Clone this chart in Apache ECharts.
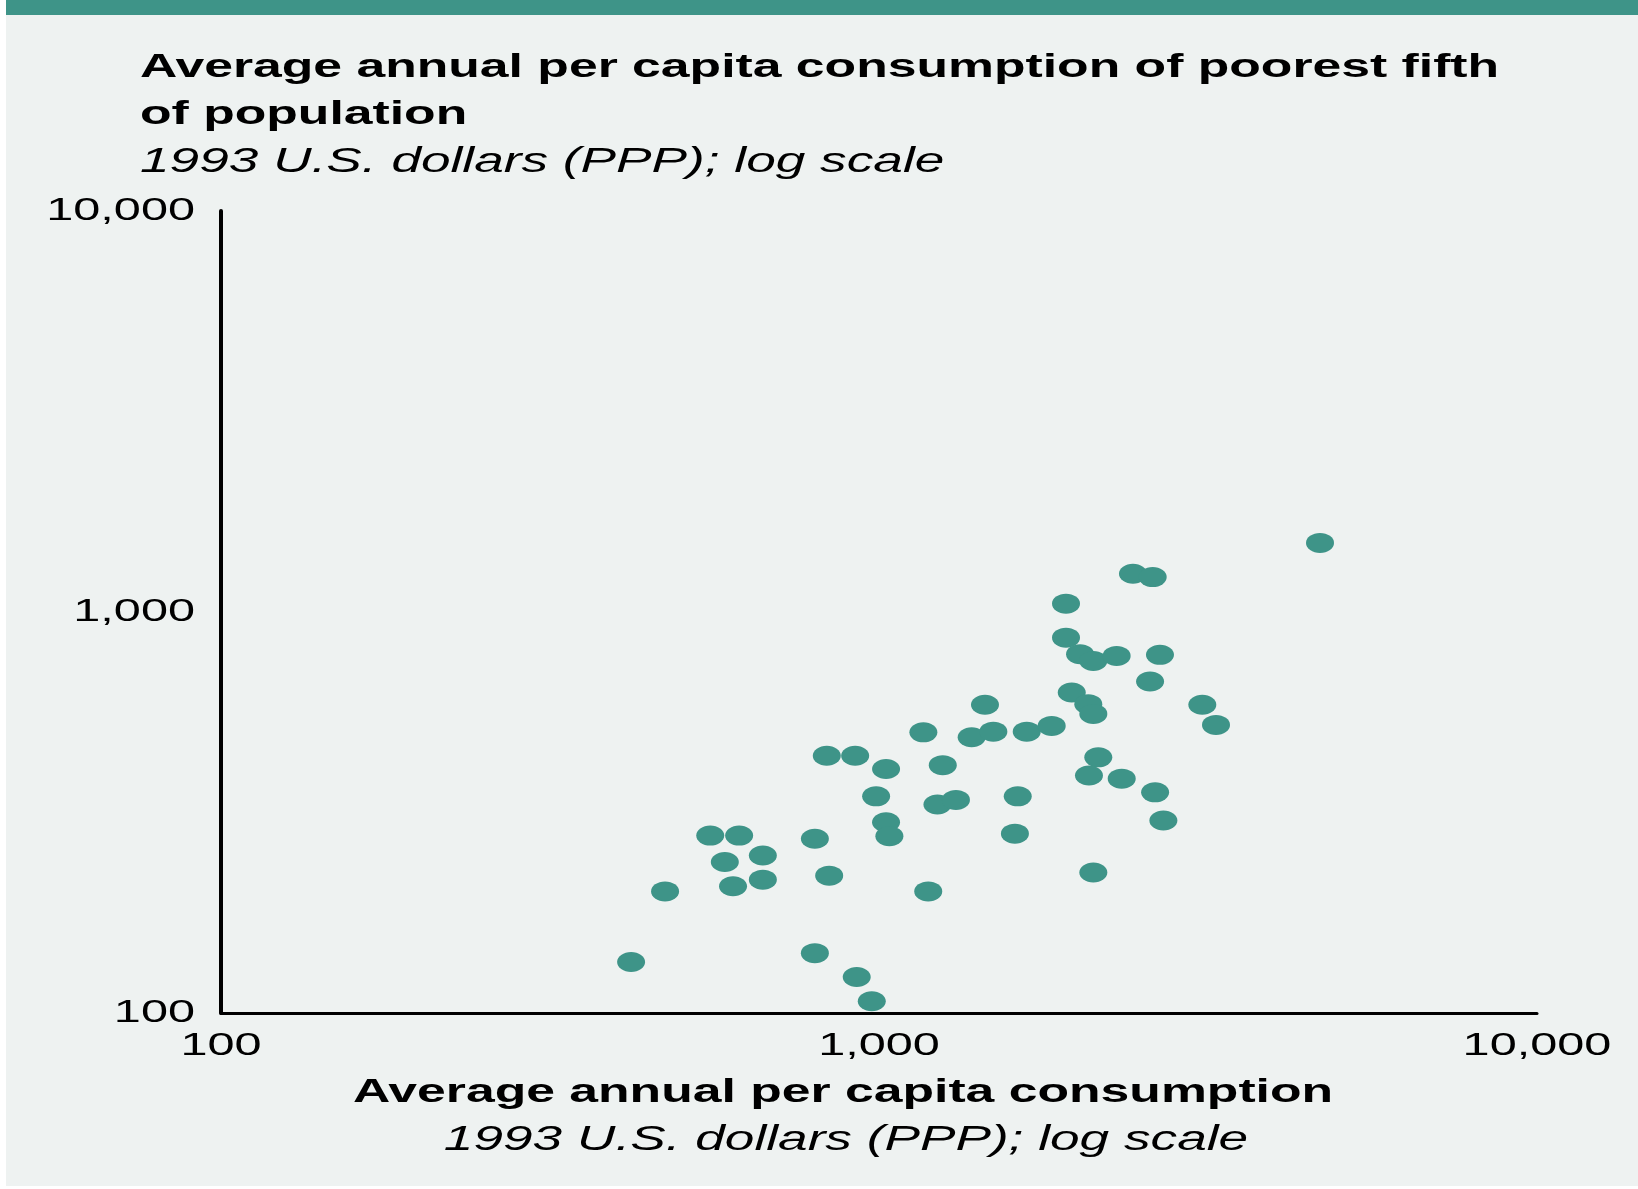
<!DOCTYPE html>
<html>
<head>
<meta charset="utf-8">
<title>Consumption of the poorest fifth</title>
<script src="https://cdn.jsdelivr.net/npm/echarts@6/dist/echarts.min.js"></script>
<style>
  html, body { margin: 0; padding: 0; background: #ffffff; }
  #chart { width: 1638px; height: 1189px; }
</style>
</head>
<body>
<div id="chart"></div>
<script>
// Average annual per capita consumption, whole population (1993 US$ PPP)
const consumptionAll = [
  420, 473, 554, 613, 583, 600, 666, 666, 799, 840,
  833, 920, 799, 925, 975, 1025, 990, 1025, 1037, 1168,
  1250, 1188, 1227, 1309, 1449, 1383, 1492, 1677, 1830, 1625,
  1609, 1924, 1924, 2021, 2117, 2297, 1963, 2080, 2117, 2154,
  2085, 2338, 2117, 2432, 2606, 2673, 2582, 2628, 2705, 3100,
  3252, 4680
];
// Average annual per capita consumption, poorest fifth (1993 US$ PPP)
const consumptionPoorest = [
  134, 201, 277, 277, 238, 207, 247, 215, 272, 220,
  438, 438, 141, 123, 107, 406, 347, 299, 276, 501,
  415, 201, 331, 340, 587, 487, 503, 503, 520, 347,
  280, 1049, 863, 785, 755, 777, 630, 589, 557, 434,
  391, 384, 224, 1246, 1222, 782, 671, 355, 302, 587,
  523, 1487
];
const axisTicks = [100, 1000, 10000];
const axisTickLabels = ['100', '1,000', '10,000'];
const titleLines = ['Average annual per capita consumption of poorest fifth', 'of population'];
const unitNote = '1993 U.S. dollars (PPP); log scale';
const xAxisTitle = 'Average annual per capita consumption';

// All lettering is set wide: each string is drawn with a horizontal stretch.
const TEXT_STRETCH = 1.52;
const plainFillText = CanvasRenderingContext2D.prototype.fillText;
CanvasRenderingContext2D.prototype.fillText = function (text, x, y) {
  this.save();
  this.translate(x, y);
  this.scale(TEXT_STRETCH, 1);
  plainFillText.call(this, text, 0, 0);
  this.restore();
};

const FONT = '"Liberation Sans", Arial, Helvetica, sans-serif';
const INK = '#000000';
const TEAL = '#3e9488';

function tickLabel(v) {
  const i = axisTicks.findIndex(t => Math.abs(t - v) / t < 1e-6);
  return i >= 0 ? axisTickLabels[i] : '';
}

const points = consumptionAll.map((x, i) => [x, consumptionPoorest[i]]);

const chart = echarts.init(document.getElementById('chart'), null, { renderer: 'canvas' });

const logAxisBase = {
  type: 'log',
  logBase: 10,
  min: 100,
  max: 10000,
  axisTick: { show: false },
  splitLine: { show: false },
  minorTick: { show: false },
  minorSplitLine: { show: false }
};

chart.setOption({
  animation: false,
  backgroundColor: '#eef2f1',
  title: [
    {
      text: titleLines.join('\n'),
      left: 140, top: 44, padding: 0,
      textStyle: { fontFamily: FONT, fontSize: 34, fontWeight: 'bold', lineHeight: 47, color: INK }
    },
    {
      text: unitNote,
      left: 140, top: 145, padding: 0,
      textStyle: { fontFamily: FONT, fontSize: 35, fontStyle: 'italic', fontWeight: 'normal', lineHeight: 34, color: INK }
    },
    {
      text: unitNote,
      left: 846, top: 1123, padding: 0, textAlign: 'center',
      textStyle: { fontFamily: FONT, fontSize: 35, fontStyle: 'italic', fontWeight: 'normal', lineHeight: 34, color: INK }
    }
  ],
  grid: { left: 221, right: 101, top: 211, bottom: 176, containLabel: false },
  xAxis: Object.assign({}, logAxisBase, {
    name: xAxisTitle,
    nameLocation: 'middle',
    nameGap: 63,
    nameTextStyle: {
      fontFamily: FONT, fontSize: 34, fontWeight: 'bold', color: INK,
      lineHeight: 34, padding: [0, 72, 0, 0]
    },
    axisLine: { show: true, onZero: false, lineStyle: { color: INK, width: 3 } },
    axisLabel: { margin: 17, fontFamily: FONT, fontSize: 32, color: INK, formatter: tickLabel }
  }),
  yAxis: Object.assign({}, logAxisBase, {
    axisLine: { show: true, onZero: false, lineStyle: { color: INK, width: 4 } },
    axisLabel: { margin: 26, fontFamily: FONT, fontSize: 32, color: INK, formatter: tickLabel }
  }),
  series: [{
    type: 'scatter',
    data: points,
    symbol: 'circle',
    symbolSize: [28, 20],
    itemStyle: { color: TEAL, opacity: 1 },
    emphasis: { disabled: true }
  }],
  graphic: [
    { type: 'rect', shape: { x: 0, y: 0, width: 1638, height: 15 }, style: { fill: TEAL }, silent: true },
    { type: 'rect', shape: { x: 0, y: 0, width: 6, height: 1189 }, style: { fill: '#ffffff' }, silent: true },
    { type: 'rect', shape: { x: 0, y: 1186, width: 1638, height: 3 }, style: { fill: '#ffffff' }, silent: true }
  ]
});
</script>
</body>
</html>
